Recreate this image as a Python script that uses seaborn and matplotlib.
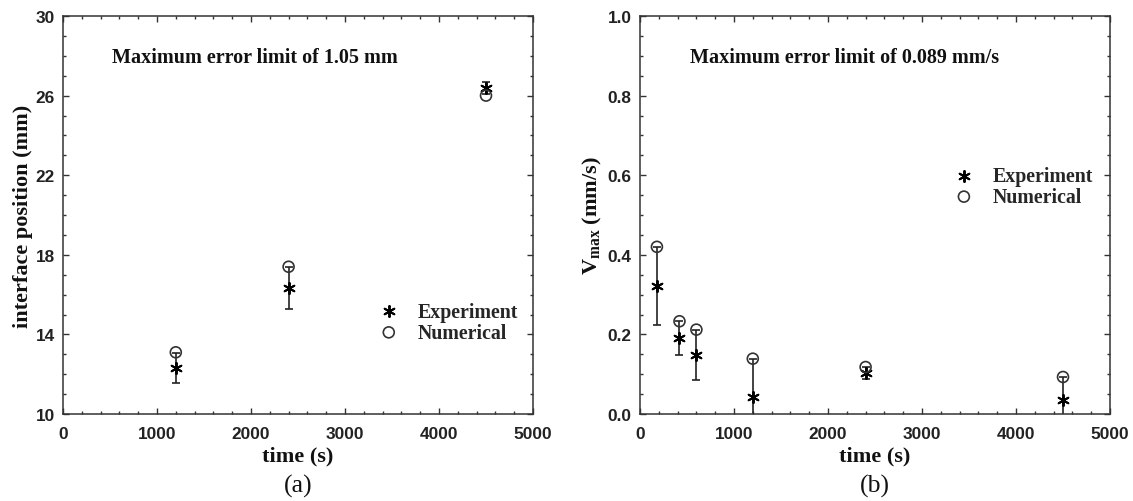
import numpy as np
import pandas as pd
import seaborn as sns
import matplotlib.pyplot as plt
from matplotlib.ticker import MultipleLocator

# panel (a): interface position
time_a = [1200, 2400, 4500]
exp_a = [12.3, 16.35, 26.4]
num_a = [13.1, 17.4, 26.0]
err_a = [0.75, 1.05, 0.3]

# panel (b): max velocity
time_b = [180, 420, 600, 1200, 2400, 4500]
exp_b = [0.322, 0.19, 0.149, 0.042, 0.103, 0.035]
num_b = [0.42, 0.233, 0.212, 0.139, 0.118, 0.093]
err_b = [0.098, 0.043, 0.063, 0.097, 0.015, 0.058]

xticks = [0, 1000, 2000, 3000, 4000, 5000]
xtick_labels = ['0', '1000', '2000', '3000', '4000', '5000']
yticks_a = [10, 14, 18, 22, 26, 30]
ytick_labels_a = ['10', '14', '18', '22', '26', '30']
yticks_b = [0.0, 0.2, 0.4, 0.6, 0.8, 1.0]
ytick_labels_b = ['0.0', '0.2', '0.4', '0.6', '0.8', '1.0']

sns.set_style('ticks')
plt.rcParams['font.family'] = ['Liberation Serif', 'DejaVu Serif']
plt.rcParams['mathtext.fontset'] = 'custom'
plt.rcParams['mathtext.rm'] = 'Liberation Serif'
plt.rcParams['mathtext.bf'] = 'Liberation Serif:bold'

df_a = pd.DataFrame({'time': time_a, 'exp': exp_a, 'num': num_a, 'err': err_a})
df_b = pd.DataFrame({'time': time_b, 'exp': exp_b, 'num': num_b, 'err': err_b})

fig = plt.figure(figsize=(11.33, 5.02), dpi=100)
ax1 = fig.add_axes([63/1133, 87/502, 470/1133, 398/502])
ax2 = fig.add_axes([640/1133, 87/502, 470/1133, 398/502])

tick_font = dict(fontfamily='Liberation Sans', fontweight='bold', fontsize=12.4, color='#222')
label_font = dict(fontfamily='Liberation Serif', fontweight='bold', fontsize=16, color='#111')
leg_prop = {'family': 'Liberation Serif', 'weight': 'bold', 'size': 14.3}


def draw_panel(ax, df, yticks, ylabels, ymin_step):
    ax.errorbar(df['time'], df['exp'], yerr=df['err'], fmt='none', ecolor='#222',
                elinewidth=1.2, capsize=3, capthick=1.2, zorder=2)
    sns.scatterplot(data=df, x='time', y='exp', marker=(6, 2, 0), s=64, color='black',
                    linewidth=1.4, label='Experiment', ax=ax, zorder=3)
    sns.scatterplot(data=df, x='time', y='num', marker='o', s=62, facecolor='none',
                    edgecolor='#333', linewidth=1.2, label='Numerical', ax=ax, zorder=3)
    ax.set_xlim(0, 5000)
    ax.set_ylim(yticks[0], yticks[-1])
    ax.set_xticks(xticks, xtick_labels, **tick_font)
    ax.set_yticks(yticks, ylabels, **tick_font)
    ax.xaxis.set_minor_locator(MultipleLocator(200))
    ax.yaxis.set_minor_locator(MultipleLocator(ymin_step))
    ax.tick_params(which='both', direction='in', top=True, right=True, color='#333', width=1)
    ax.tick_params(which='major', length=4)
    ax.tick_params(which='minor', length=2.5)
    ax.tick_params(axis='x', pad=9)
    ax.tick_params(axis='y', pad=6)
    for sp in ax.spines.values():
        sp.set_color('#333')
        sp.set_linewidth(1.1)
    ax.set_xlabel('time (s)', labelpad=3, **label_font)


draw_panel(ax1, df_a, yticks_a, ytick_labels_a, 1)
draw_panel(ax2, df_b, yticks_b, ytick_labels_b, 0.05)

ax1.set_ylabel('interface position (mm)', labelpad=2, **label_font)
ax2.set_ylabel(r'V$_{\mathbf{max}}$ (mm/s)', labelpad=3, **label_font)

ax1.text(0.104, 0.897, 'Maximum error limit of 1.05 mm', transform=ax1.transAxes,
         ha='left', va='center', fontsize=14.5, fontweight='bold', color='#111')
ax2.text(0.106, 0.897, 'Maximum error limit of 0.089 mm/s', transform=ax2.transAxes,
         ha='left', va='center', fontsize=14.5, fontweight='bold', color='#111')

ax1.legend(loc='center left', bbox_to_anchor=(0.672, 0.231), frameon=False, prop=leg_prop,
           handlelength=1.0, handletextpad=0.95, borderpad=0, borderaxespad=0,
           labelspacing=0.05, scatterpoints=1)
ax2.legend(loc='center left', bbox_to_anchor=(0.668, 0.572), frameon=False, prop=leg_prop,
           handlelength=1.0, handletextpad=0.95, borderpad=0, borderaxespad=0,
           labelspacing=0.05, scatterpoints=1)

fig.text(298/1133, 0.03, '(a)', ha='center', va='center', fontsize=18.5, color='#111')
fig.text(875/1133, 0.03, '(b)', ha='center', va='center', fontsize=18.5, color='#111')

fig.savefig('out.png', dpi=100)
